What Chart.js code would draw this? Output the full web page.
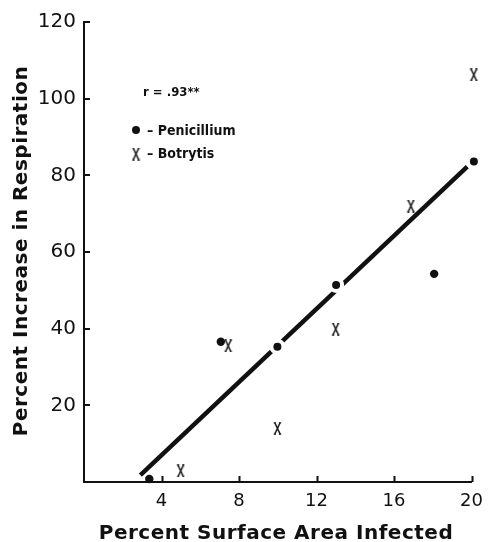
<!DOCTYPE html>
<html>
<head>
<meta charset="utf-8">
<script src="https://cdn.jsdelivr.net/npm/chart.js@4.4.1/dist/chart.umd.min.js"></script>
<style>
  html, body { margin: 0; padding: 0; background: #ffffff; }
  #wrap { width: 492px; height: 542px; }
</style>
</head>
<body>
<div id="wrap"><canvas id="c" width="492" height="542"></canvas></div>
<script>
// ---- data ----
const penicilliumX = [3.37, 7.06, 9.98, 13.01, 18.07, 20.12];
const penicilliumY = [0.8, 36.6, 35.3, 51.4, 54.3, 83.6];
const botrytisX = [4.99, 7.44, 9.98, 12.99, 16.87, 20.12];
const botrytisY = [2.9, 35.5, 14.0, 39.9, 72.0, 106.2];
const fitX = [2.91, 19.78];
const fitY = [1.8, 82.3];
const xTickValues = [4, 8, 12, 16, 20];
const yTickValues = [20, 40, 60, 80, 100, 120];
const xTitle = 'Percent Surface Area Infected';
const yTitle = 'Percent Increase in Respiration';
const corrLabel = 'r = .93**';
const legendPen = '\u2013 Penicillium';
const legendBot = '\u2013 Botrytis';

const toPts = (xs, ys) => xs.map((x, i) => ({ x: x, y: ys[i] }));

// X glyph marker
function makeX() {
  const cv = document.createElement('canvas');
  cv.width = 9; cv.height = 13;
  const g = cv.getContext('2d');
  g.strokeStyle = '#111';
  g.lineWidth = 1.5;
  g.lineCap = 'butt';
  g.beginPath();
  g.moveTo(1.8, 0.8); g.lineTo(7.2, 12.2);
  g.moveTo(7.2, 0.8); g.lineTo(1.8, 12.2);
  g.stroke();
  g.lineWidth = 1.2;
  g.beginPath();
  g.moveTo(0.8, 0.8); g.lineTo(3, 0.8);
  g.moveTo(6, 0.8); g.lineTo(8.2, 0.8);
  g.moveTo(0.8, 12.2); g.lineTo(3, 12.2);
  g.moveTo(6, 12.2); g.lineTo(8.2, 12.2);
  g.stroke();
  return cv;
}
const xMark = makeX();

const slope = (fitY[1] - fitY[0]) / (fitX[1] - fitX[0]);
function onFit(ctx) {
  const p = ctx.raw;
  if (!p) return false;
  const yy = fitY[0] + slope * (p.x - fitX[0]);
  return Math.abs(p.y - yy) < 2 && p.x > fitX[0];
}

const annotate = {
  id: 'annotate',
  afterDraw(chart) {
    const { ctx, chartArea } = chart;
    const xs = chart.scales.x, ys = chart.scales.y;
    ctx.save();
    // inward tick marks
    ctx.strokeStyle = '#111';
    ctx.lineWidth = 2;
    ctx.beginPath();
    xTickValues.forEach(v => {
      const px = Math.round(xs.getPixelForValue(v)) + 0.5;
      ctx.moveTo(px, chartArea.bottom);
      ctx.lineTo(px, chartArea.bottom - 6);
    });
    yTickValues.forEach(v => {
      const py = Math.round(ys.getPixelForValue(v));
      ctx.moveTo(chartArea.left, py);
      ctx.lineTo(chartArea.left + 6, py);
    });
    ctx.stroke();

    // axis titles
    ctx.fillStyle = '#111';
    ctx.font = 'bold 20px "DejaVu Sans"';
    ctx.letterSpacing = '0.5px';
    ctx.textAlign = 'center';
    ctx.textBaseline = 'alphabetic';
    ctx.fillText(xTitle, 276, 539);
    ctx.save();
    ctx.translate(27, 251);
    ctx.rotate(-Math.PI / 2);
    ctx.fillText(yTitle, 0, 0);
    ctx.restore();

    // in-plot key
    ctx.letterSpacing = '0px';
    ctx.textAlign = 'left';
    ctx.textBaseline = 'middle';
    ctx.font = 'bold 13px "DejaVu Sans Condensed"';
    ctx.fillText(corrLabel, 143, 93);
    ctx.font = 'bold 14px "DejaVu Sans Condensed"';
    ctx.fillText(legendPen, 147, 131);
    ctx.fillText(legendBot, 147, 154);
    ctx.beginPath();
    ctx.arc(136, 130, 4, 0, Math.PI * 2);
    ctx.fill();
    ctx.drawImage(xMark, 136 - 4.5, 154 - 6.5);
    ctx.restore();
  }
};

new Chart(document.getElementById('c'), {
  type: 'scatter',
  data: {
    datasets: [
      {
        label: 'Penicillium',
        data: toPts(penicilliumX, penicilliumY),
        backgroundColor: '#111',
        pointBorderColor: (c) => onFit(c) ? '#ffffff' : '#111',
        pointBorderWidth: (c) => onFit(c) ? 4 : 0,
        pointRadius: (c) => onFit(c) ? 6 : 4.2,
        pointStyle: 'circle',
        clip: false,
        order: 1
      },
      {
        label: 'Botrytis',
        data: toPts(botrytisX, botrytisY),
        pointStyle: xMark,
        pointRadius: 6,
        clip: false,
        order: 2
      },
      {
        label: 'fit',
        data: toPts(fitX, fitY),
        showLine: true,
        borderColor: '#111',
        borderWidth: 4.5,
        borderCapStyle: 'butt',
        pointRadius: 0,
        clip: false,
        order: 3
      }
    ]
  },
  options: {
    responsive: false,
    animation: false,
    layout: { padding: { top: 22, right: 18, left: 0, bottom: 0 } },
    plugins: { legend: { display: false }, tooltip: { enabled: false } },
    scales: {
      x: {
        type: 'linear',
        min: 0, max: 20,
        afterFit: (s) => { s.height = 60; },
        afterBuildTicks: (s) => { s.ticks = [0].concat(xTickValues).map(v => ({ value: v })); },
        grid: { display: false, drawTicks: false },
        border: { display: true, color: '#111', width: 2 },
        ticks: {
          padding: 9,
          color: '#111',
          font: { family: '"DejaVu Sans"', size: 18 },
          callback: (v) => v === 0 ? '' : String(v)
        }
      },
      y: {
        type: 'linear',
        min: 0, max: 120,
        afterFit: (s) => { s.width = 84; },
        afterBuildTicks: (s) => { s.ticks = [0].concat(yTickValues).map(v => ({ value: v })); },
        grid: { display: false, drawTicks: false },
        border: { display: true, color: '#111', width: 2 },
        ticks: {
          padding: 8,
          color: '#111',
          font: { family: '"DejaVu Sans"', size: 20 },
          callback: (v) => v === 0 ? '' : String(v)
        }
      }
    }
  },
  plugins: [annotate]
});
</script>
</body>
</html>
